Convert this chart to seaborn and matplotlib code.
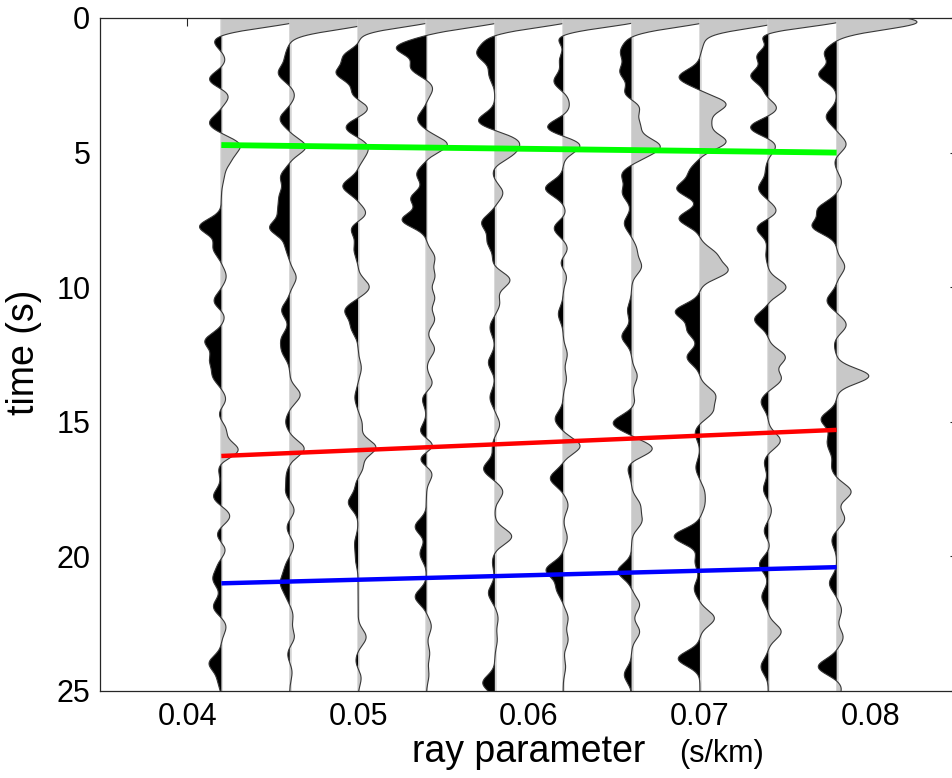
import numpy as np
import pandas as pd
import matplotlib
matplotlib.use("Agg")
import matplotlib.pyplot as plt
import seaborn as sns

# Ray parameter of each stacked receiver function (s/km)
ray_params = [0.042, 0.046, 0.050, 0.054, 0.058, 0.062, 0.066, 0.070, 0.074, 0.078]

# Wavelet arrival times (s) in each trace
trace_times = [
    [0.05, 0.82, 1.56, 2.3, 2.86, 3.91, 4.72, 5.27, 5.9, 7.75, 8.55, 9.6, 10.54, 11.03, 12.0, 12.7, 13.3,
     14.19, 14.69, 15.3, 16.05, 16.7, 17.78, 18.5, 19.2, 19.76, 20.3, 20.85, 21.87, 22.6, 23.97, 24.6],
    [0.15, 1.4, 2.05, 2.86, 3.75, 4.78, 5.9, 6.6, 7.15, 7.8, 8.5, 9.64, 10.86, 11.9, 12.4, 14.0, 15.0,
     16.0, 17.0, 17.6, 18.3, 18.9, 19.6, 20.4, 20.95, 21.4, 22.2, 23.0, 23.6, 24.3],
    [0.05, 0.6, 0.93, 1.4, 2.05, 2.86, 3.34, 4.07, 4.72, 5.1, 6.25, 7.3, 7.79, 8.6, 10.0, 10.86, 11.5,
     13.0, 14.1, 15.1, 15.95, 16.7, 17.3, 18.0, 19.5, 20.1, 23.0, 23.9, 24.5],
    [0.05, 1.1, 1.85, 2.6, 3.75, 4.7, 5.8, 6.7, 7.5, 8.9, 9.6, 10.4, 11.2, 12.3, 13.6, 14.1, 15.4,
     15.9, 16.35, 16.9, 18.9, 19.9, 21.5, 22.6, 23.6, 24.4],
    [0.05, 0.85, 1.35, 2.1, 3.83, 4.56, 5.04, 5.7, 6.5, 7.6, 8.3, 9.1, 9.73, 10.6, 11.5, 12.8, 14.1,
     15.1, 15.9, 16.75, 17.6, 19.26, 20.2, 21.36, 22.3, 23.1, 24.7],
    [0.05, 0.7, 1.16, 1.49, 2.37, 2.94, 3.4, 4.07, 4.72, 6.33, 7.3, 7.79, 8.6, 9.1, 9.56, 11.0, 12.5,
     13.4, 14.9, 15.9, 17.1, 18.1, 19.3, 20.5, 21.2, 22.3, 23.1, 24.1],
    [0.05, 0.84, 1.3, 2.0, 2.85, 3.26, 4.0, 4.72, 5.1, 5.8, 6.5, 7.63, 8.6, 9.24, 10.86, 11.83, 13.3,
     14.25, 15.05, 16.0, 16.7, 18.1, 18.7, 20.55, 21.8, 22.8, 24.4],
    [0.1, 0.9, 2.2, 3.2, 3.9, 4.6, 5.7, 6.35, 7.45, 8.8, 9.4, 10.9, 11.6, 12.6, 14.0, 14.6, 15.4,
     16.7, 17.6, 18.1, 19.26, 20.2, 21.2, 22.3, 23.8],
    [0.05, 0.6, 1.0, 1.4, 1.8, 2.13, 2.86, 3.34, 4.07, 4.72, 5.6, 6.33, 7.2, 7.79, 8.8, 10.0, 11.2,
     12.6, 13.4, 14.25, 15.7, 16.5, 17.5, 18.3, 19.1, 19.5, 20.3, 21.5, 22.8, 24.1],
    [0.15, 1.3, 2.1, 3.67, 4.7, 5.3, 6.1, 7.1, 7.75, 9.24, 10.5, 11.4, 12.1, 13.3, 14.9, 15.6, 16.0,
     16.7, 17.6, 18.6, 19.4, 21.0, 22.0, 23.0, 24.1, 24.9],
]

# Wavelet amplitudes (% of the direct P peak), matching trace_times
trace_amps = [
    [100, -10, 5, -16, 10, -15, 22, 10, 3, -27, -10, 6, -10, 5, -20, -13, -10,
     6, -4, 6, 21, -4, -10, 11, -6, 6, -4, -10, -10, 6, -15, -4],
    [100, -5, -14, 6, -12, 20, -11, -11, -12, -24, -5, 8, -10, -9, -8, 13, -5,
     18, -4, -5, 6, -4, 5, -5, -10, -4, 4, 6, -3, 3],
    [100, -5, 6, -18, -26, -9, 14, -16, 10, 6, -19, 11, -10, -5, 14, -16, -8,
     4, -4, 5, 22, 6, -3, -12, -4, -3, 10, -3, 4],
    [100, -37, -19, 8, -11, 26, -12, -19, -30, 10, 10, 10, 10, 10, 8, -6, -9,
     12, -11, 8, -14, -8, -14, 6, 4, 3],
    [100, -10, -20, -7, -21, 25, 19, -3, 10, -16, -9, -3, 19, 6, -6, -8, -6,
     6, -3, -14, 10, 21, -3, -8, 4, 3, -15],
    [100, -10, 4, -6, -12, 5, 6, -21, 22, -22, 4, -12, 6, -5, 5, -6, 5,
     4, -10, 21, -16, 6, 5, -21, -8, 6, 6, 3],
    [100, -5, -12, -14, -11, 12, 10, 30, 12, -12, -11, -9, 6, 12, -5, -12, 7,
     4, -23, 26, -5, 10, 12, -17, 10, 10, -9],
    [100, 4, -26, 32, 12, 32, -12, -28, -26, 19, 33, -30, -15, -16, 18, 15, -6,
     -5, 5, 5, -32, -6, -7, 18, -27],
    [100, -17, 7, -17, 4, -23, -5, 12, -23, 10, -3, -12, 11, -15, -3, 22, -17,
     21, 16, -9, 15, -5, -6, 4, -6, 3, -11, -8, 16, -9],
    [100, -15, -22, -13, 12, -3, 6, -22, -29, 10, -12, 12, -3, 40, -19, -8, -7,
     -6, 18, 10, -6, -9, 6, 8, -23, 6],
]

# Picked phases: arrival time at the smallest and largest ray parameter
phase_names = ["Ps", "PpPs", "PpSs+PsPs"]
phase_t_first = [4.72, 16.27, 21.0]
phase_t_last = [5.0, 15.3, 20.4]
phase_colors = ["#00ff00", "#ff0000", "#0000ff"]

xtick_vals = [0.04, 0.05, 0.06, 0.07, 0.08]
ytick_vals = [0, 5, 10, 15, 20, 25]

sns.set_theme(style="white")
plt.rcParams["font.family"] = ["Liberation Sans", "DejaVu Sans"]

fig = plt.figure(figsize=(9.52, 7.78), dpi=100)
ax = fig.add_axes([100 / 952, 87 / 778, 858 / 952, 673 / 778])

t = np.arange(0.0, 25.0001, 0.02)
sigma = 0.28              # Gaussian filter width of the receiver functions (s)
amp_scale = 0.0047 / 100  # horizontal extent of 1 % amplitude (s/km)

for k, p in enumerate(ray_params):
    w = np.zeros_like(t)
    for tc, a in zip(trace_times[k], trace_amps[k]):
        w += a * np.exp(-0.5 * ((t - tc) / sigma) ** 2)
    x = p + w * amp_scale
    z = 2 + 3 * k
    ax.axvline(p, color="#d4d4d4", lw=1.8, zorder=z)
    ax.fill_betweenx(t, p, x, where=x >= p, interpolate=True,
                     color="#c8c8c8", lw=0, zorder=z)
    ax.fill_betweenx(t, p, x, where=x <= p, interpolate=True,
                     color="black", lw=0, zorder=z)
    sns.lineplot(x=x, y=t, orient="y", sort=False, estimator=None,
                 color="#383838", lw=0.8, ax=ax, zorder=z + 1)

phase_df = pd.DataFrame({
    "p": [ray_params[0], ray_params[-1]] * 3,
    "t": [v for pair in zip(phase_t_first, phase_t_last) for v in pair],
    "phase": [n for n in phase_names for _ in range(2)],
})
widths = [4.2, 3.2, 3.2]
for name, col, lw in zip(phase_names, phase_colors, widths):
    sns.lineplot(data=phase_df[phase_df["phase"] == name], x="p", y="t",
                 color=col, lw=lw, ax=ax, zorder=60, legend=False,
                 solid_capstyle="butt")

ax.set_xlim(0.0349, 0.0851)
ax.set_ylim(25, 0)
ax.set_xticks(xtick_vals)
ax.set_xticklabels([f"{v:.2f}" for v in xtick_vals])
ax.set_yticks(ytick_vals)
ax.set_yticklabels([str(v) for v in ytick_vals])
ax.tick_params(axis="both", which="both", direction="in", top=True, right=True,
               length=6, width=0.8, color="#262626", labelsize=22, labelcolor="black")
ax.tick_params(axis="y", pad=7)
ax.tick_params(axis="x", pad=8)
ax.set_xlabel("")
ax.set_ylabel("")
for s in ax.spines.values():
    s.set_color("#262626")
    s.set_linewidth(0.9)
    s.set_zorder(80)

fig.text(24 / 952, 1 - 352 / 778, "time (s)", rotation=90, ha="center", va="center",
         fontsize=27, color="black")
fig.text(529 / 952, 1 - 762 / 778, "ray parameter", ha="center", va="baseline",
         fontsize=27, color="black")
fig.text(679 / 952, 1 - 762 / 778, "(s/km)", ha="left", va="baseline",
         fontsize=22, color="black")

fig.savefig("out.png", dpi=100, facecolor="white")
